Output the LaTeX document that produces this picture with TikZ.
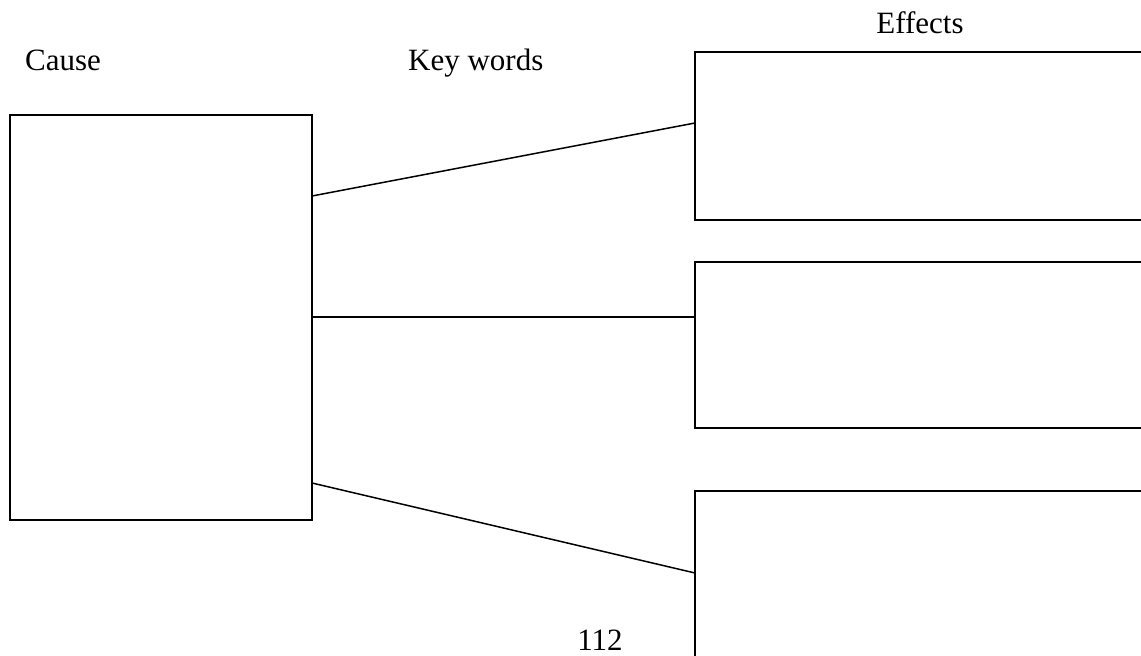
\documentclass[tikz,border=0pt]{standalone}
\usepackage{fontspec}
\setmainfont{Liberation Serif}
\usetikzlibrary{positioning}

\begin{document}
\begin{tikzpicture}[x=1pt, y=-1pt,
  box/.style={draw, line width=1.8pt, anchor=north west, inner sep=0pt, outer sep=0pt},
  caption/.style={font=\fontsize{31}{36}\selectfont, inner sep=0pt},
  link/.style={line width=1.5pt}]
\useasboundingbox (0,0) rectangle (1141,656);
\clip (0,0) rectangle (1141,656);

\node[box, minimum width=302pt, minimum height=405pt] (cause) at (10,115) {};
\node[box, minimum width=500pt, minimum height=168pt] (effect1) at (695,52) {};
\node[box, minimum width=500pt, minimum height=166pt] (effect2) at (695,262) {};
\node[box, minimum width=500pt, minimum height=200pt] (effect3) at (695,491) {};

\node[caption, anchor=base west] (causetext) at (25,70) {Cause};
\node[caption, anchor=base west] (keytext) at (408,70) {Key words};
\node[caption, anchor=base] (effecttext) at (920,33) {Effects};
% page number
\node[caption, anchor=base] (pagenum) at (600,650) {112};

\draw[link] ([yshift=-81pt]cause.north east) -- ([yshift=-71pt]effect1.north west);
\draw[link] ([yshift=-202pt]cause.north east) -- ([yshift=-55pt]effect2.north west);
\draw[link] ([yshift=-368pt]cause.north east) -- ([yshift=-82pt]effect3.north west);

\end{tikzpicture}
\end{document}
